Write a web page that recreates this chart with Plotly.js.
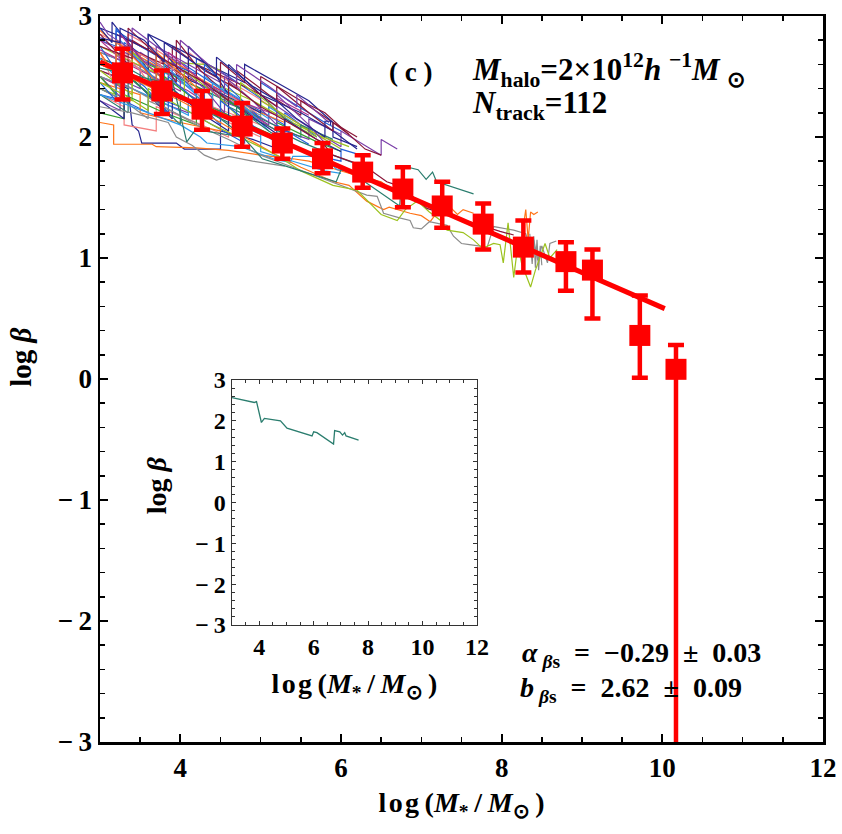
<!DOCTYPE html>
<html>
<head>
<meta charset="utf-8">
<script src="https://cdn.plot.ly/plotly-3.0.1.min.js"></script>
<style>
  html, body { margin: 0; padding: 0; background: #fff; }
  #chart { width: 842px; height: 834px; }
</style>
</head>
<body>
<div id="chart"></div>
<script>
// ---- Binned median of log beta (red squares) ----
const binX     = [3.28, 3.77, 4.27, 4.77, 5.27, 5.77, 6.27, 6.77, 7.26, 7.77, 8.27, 8.80, 9.13, 9.72, 10.17];
const binY     = [2.53, 2.38, 2.23, 2.09, 1.95, 1.82, 1.71, 1.57, 1.43, 1.28, 1.09, 0.97, 0.90, 0.36, 0.08];
const binErrUp = [0.20, 0.17, 0.15, 0.19, 0.12, 0.13, 0.14, 0.18, 0.20, 0.17, 0.22, 0.16, 0.17, 0.33, 0.20];
const binErrDn = [0.22, 0.19, 0.17, 0.17, 0.13, 0.12, 0.13, 0.15, 0.18, 0.21, 0.21, 0.24, 0.40, 0.35, 3.60];

// ---- Linear fit: log beta = b + alpha * (log M* - 3) ----
const fitAlpha = -0.29;
const fitB = 2.62;
const fitRange = [3.0, 10.03];

// ---- Tick labels ----
const xTickVals = [4, 6, 8, 10, 12];
const xTickText = ['4', '6', '8', '10', '12'];
const yTickVals = [-3, -2, -1, 0, 1, 2, 3];
const yTickText = ['−\u20093', '−\u20092', '−\u20091', '0', '1', '2', '3'];

// ---- Individual tracks, [log M*, log beta] ----
const trackTeal = [[3.0,2.57],[3.82,2.45],[3.9,2.47],[3.94,2.35],[4.08,1.96],[4.19,2.06],[4.78,2.0],[5.02,1.82],[5.45,1.73],[5.94,1.63],[6.0,1.73],[6.12,1.71],[6.73,1.43],[6.77,1.76],[6.96,1.73],[7.06,1.65],[7.14,1.71],[7.19,1.63],[7.65,1.53]];
const trackGreenLong = [[3.0,2.45],[3.3,2.35],[3.6,2.22],[3.6,2.4],[4.0,2.25],[4.4,2.1],[4.8,1.98],[5.2,1.85],[5.5,1.72],[5.9,1.6],[6.2,1.56],[6.5,1.36],[6.7,1.31],[6.8,1.4],[6.95,1.47],[7.1,1.38],[7.24,1.31],[7.32,1.23],[7.52,1.21],[7.65,1.15],[7.76,1.08],[7.9,1.12],[7.98,1.11],[8.02,0.96],[8.08,1.29],[8.12,1.05],[8.15,0.84],[8.2,1.1],[8.25,0.95],[8.36,0.76],[8.42,0.9],[8.48,1.01],[8.54,1.12],[8.6,1.0],[8.69,1.07]];
const trackGrayLong = [[3.0,2.5],[3.4,2.4],[3.8,2.25],[4.2,2.1],[4.6,1.98],[5.0,1.85],[5.4,1.75],[5.8,1.65],[6.1,1.58],[6.32,1.52],[6.45,1.51],[6.53,1.37],[6.74,1.33],[6.86,1.31],[6.9,1.25],[7.0,1.24],[7.1,1.3],[7.32,1.27],[7.4,1.18],[7.5,1.12],[7.6,1.11],[7.82,1.09],[7.9,1.26],[8.15,1.23],[8.3,1.2],[8.36,1.08],[8.4,1.15],[8.45,0.98],[8.5,1.1],[8.57,0.96],[8.6,1.12],[8.68,1.14]];
const trackGrayBundle = [[8.35,1.2],[8.38,0.95],[8.4,1.18],[8.42,0.92],[8.44,1.15],[8.46,0.9],[8.48,1.1],[8.5,0.94]];
const trackOrangeLong = [[3.0,2.6],[3.5,2.45],[4.0,2.3],[4.5,2.12],[4.8,2.0],[5.2,1.85],[5.5,1.75],[5.91,1.63],[6.1,1.6],[6.32,1.47],[6.53,1.40],[6.6,1.42],[6.86,1.37],[7.0,1.35],[7.11,1.30],[7.2,1.38],[7.36,1.42],[7.45,1.36],[7.52,1.40],[7.65,1.37]];
const trackOrangeSpike = [[8.26,1.22],[8.3,1.4],[8.33,1.15],[8.36,1.38],[8.4,1.36],[8.45,1.38]];
const trackOrangeLow = [[3.0,2.12],[3.17,2.1],[3.17,1.94],[3.65,1.94],[3.7,1.92],[4.2,1.91],[4.6,1.89],[5.0,1.85],[5.4,1.82],[5.6,1.8],[5.9,1.74],[6.2,1.68],[6.5,1.63],[6.6,1.58]];
const trackGrayLow = [[3.0,2.25],[3.4,2.2],[3.85,2.12],[3.95,2.0],[4.15,1.93],[4.3,1.85],[4.45,1.81],[4.6,1.84],[4.9,1.8],[5.3,1.76]];
const trackMaroonLong = [[3.0,2.75],[3.4,2.65],[3.4,2.8],[3.9,2.6],[4.3,2.45],[4.6,2.3],[4.6,2.45],[5.0,2.25],[5.4,2.1],[5.77,1.95],[5.9,1.85],[6.2,1.78],[6.36,1.73],[6.57,1.63],[6.7,1.6],[6.95,1.48],[7.07,1.41],[7.3,1.36],[7.6,1.3],[7.98,1.22],[8.15,1.19]];
const trackBlueLow = [[3.0,2.35],[3.4,2.25],[3.84,2.14],[4.0,2.1],[4.25,2.0],[4.33,1.95],[4.75,1.92],[5.0,1.86],[5.2,1.81],[5.37,1.79],[5.4,1.84],[5.78,1.84],[5.95,1.73],[6.1,1.72],[6.2,1.7]];
const trackNavySpike = [[3.0,2.82],[3.25,2.78],[3.25,2.9],[3.55,2.8],[3.8,2.62],[3.8,2.78],[4.2,2.6],[4.45,2.5],[4.45,2.66],[4.9,2.42],[5.2,2.3],[5.45,2.15],[5.8,2.0],[5.8,2.13],[5.87,2.13],[5.87,2.1]];

const cloud01 = [[3.0,2.7],[3.3,2.62],[3.3,2.78],[3.7,2.6],[4.0,2.48],[4.0,2.62],[4.5,2.4],[4.9,2.25],[5.3,2.1],[5.3,2.2],[5.7,2.0]];
const cloud02 = [[3.0,2.55],[3.5,2.4],[3.5,2.7],[3.85,2.55],[4.2,2.35],[4.2,2.5],[4.7,2.28],[5.1,2.1],[5.1,2.3],[5.6,2.08],[6.0,1.92],[6.0,2.05],[6.5,1.85],[6.5,1.98],[6.7,1.9]];
const cloud03 = [[3.0,2.6],[3.3,2.52],[3.35,2.85],[3.7,2.72],[4.1,2.55],[4.1,2.7],[4.5,2.5],[4.9,2.35],[5.2,2.22],[5.5,2.1],[5.8,1.98]];
const cloud04 = [[3.0,2.5],[3.35,2.4],[3.4,2.1],[3.48,2.05],[3.52,1.95],[3.95,1.95],[4.05,1.9],[4.5,1.9],[4.5,2.05],[4.9,1.98],[5.3,1.88]];
const cloud05 = [[3.0,2.4],[3.4,2.3],[3.4,2.5],[3.9,2.35],[4.4,2.2],[4.4,2.4],[4.8,2.25],[5.0,2.15],[5.0,2.3],[5.5,2.1],[5.8,1.98],[6.0,1.9]];
const cloud06 = [[3.0,2.65],[3.2,2.6],[3.2,2.85],[3.6,2.72],[3.9,2.58],[3.9,2.75],[4.3,2.55],[4.7,2.4],[4.7,2.55],[5.1,2.35],[5.5,2.18],[5.5,2.3],[5.9,2.12],[6.2,2.0]];
const cloud07 = [[3.0,2.6],[3.2,2.55],[3.2,2.78],[3.6,2.62],[4.0,2.45],[4.3,2.35],[4.3,2.5],[4.7,2.33],[5.1,2.15],[5.1,2.25],[5.4,2.12]];
const cloud08 = [[3.0,2.5],[3.3,2.4],[3.3,2.65],[3.7,2.52],[4.1,2.38],[4.4,2.25],[4.4,2.4],[4.8,2.22],[5.2,2.05]];
const cloud09 = [[3.0,2.88],[3.1,2.82],[3.4,2.7],[3.8,2.55],[3.8,2.68],[4.2,2.5],[4.6,2.35],[5.0,2.2],[5.3,2.12]];
const cloud10 = [[3.0,2.4],[3.3,2.3],[3.3,2.55],[3.8,2.38],[4.3,2.22],[4.6,2.12],[4.6,2.25],[5.0,2.12],[5.5,1.96],[5.9,1.85],[6.3,1.75]];
const cloud11 = [[3.0,2.8],[3.2,2.75],[3.2,2.88],[3.5,2.75],[3.9,2.6],[4.2,2.52],[4.2,2.65],[4.6,2.5],[5.0,2.32],[5.0,2.45],[5.4,2.28],[5.8,2.12],[6.0,2.05]];
const cloud12 = [[3.0,2.3],[3.25,2.22],[3.25,2.45],[3.7,2.3],[4.1,2.2],[4.1,2.35],[4.6,2.18],[5.0,2.05],[5.4,1.95]];
const cloud13 = [[3.0,2.7],[3.4,2.6],[3.8,2.45],[3.8,2.6],[4.2,2.45],[4.6,2.3],[5.0,2.18]];
const cloud14 = [[3.0,2.35],[3.3,2.25],[3.3,2.1],[3.7,2.05],[3.7,2.25],[4.2,2.12],[4.6,2.0],[4.6,2.12],[5.0,2.0]];
const cloud15 = [[3.0,2.9],[3.3,2.82],[3.6,2.72],[3.6,2.85],[4.0,2.72],[4.4,2.58],[4.8,2.45],[4.8,2.6],[5.2,2.45],[5.6,2.3],[5.9,2.12],[5.9,2.0],[6.2,1.92]];
const cloud16 = [[3.0,2.2],[3.3,2.15],[3.3,2.35],[3.8,2.2],[4.2,2.1],[4.2,2.3],[4.7,2.15],[5.1,2.0]];
const cloud17 = [[3.0,2.5],[3.4,2.4],[3.8,2.28],[4.1,2.18],[4.1,2.3],[4.6,2.15],[5.0,2.02],[5.0,1.88],[5.4,1.8],[5.8,1.72],[6.0,1.7]];
const cloud18 = [[3.0,2.55],[3.4,2.45],[3.4,2.72],[3.8,2.6],[4.2,2.45],[4.2,2.6],[4.7,2.45],[5.0,2.35],[5.0,2.5],[5.5,2.3],[5.8,2.2],[6.3,1.9],[6.5,1.85]];
const cloud19 = [[3.0,2.75],[3.4,2.62],[3.8,2.5],[3.8,2.62],[4.3,2.6],[4.5,2.55],[4.5,2.42],[4.9,2.3],[5.3,2.15],[5.7,2.02],[6.1,1.92]];
const cloud20 = [[3.0,2.8],[3.3,2.7],[3.7,2.58],[3.7,2.75],[4.1,2.6],[4.5,2.45],[4.5,2.3],[4.9,2.2],[5.3,2.05],[5.6,1.98],[5.6,2.15],[6.0,2.02]];
const cloud21 = [[3.0,2.35],[3.3,2.3],[3.6,2.2],[3.6,2.35],[4.0,2.25],[4.4,2.1],[4.8,1.95],[4.8,2.1],[5.2,1.98],[5.6,1.86],[6.0,1.8],[6.0,1.9],[6.3,1.84]];
const cloud22 = [[3.0,2.85],[3.3,2.75],[3.6,2.65],[3.9,2.52],[4.2,2.45],[4.2,2.3],[4.6,2.2],[5.0,2.1]];
const cloud23 = [[3.0,2.6],[3.4,2.5],[3.8,2.35],[3.8,2.55],[4.3,2.42],[4.7,2.3],[5.0,2.2],[5.0,2.35],[5.5,2.2],[5.9,2.05],[6.2,1.9]];
const cloud24 = [[3.0,2.45],[3.5,2.35],[3.5,2.2],[4.0,2.12],[4.5,2.05],[4.5,2.2],[5.0,2.05],[5.4,1.92]];
const cloud25 = [[3.0,2.65],[3.4,2.55],[3.8,2.4],[4.2,2.28],[4.2,2.42],[4.7,2.25],[5.1,2.12],[5.5,2.0],[5.5,2.1],[5.9,1.98]];
const cloud26 = [[3.0,2.72],[3.3,2.62],[3.7,2.48],[4.0,2.38],[4.0,2.55],[4.4,2.42],[4.8,2.28],[5.2,2.18],[5.2,2.32],[5.6,2.18]];
const cloud27 = [[3.0,2.62],[3.3,2.55],[3.6,2.45],[3.6,2.6],[4.0,2.48],[4.4,2.35],[4.4,2.2],[4.8,2.12],[5.2,2.0],[5.2,2.12],[5.7,1.96],[6.0,1.88]];
const cloud28 = [[3.0,2.4],[3.3,2.3],[3.6,2.15],[3.6,2.3],[4.0,2.18],[4.3,2.08]];
const cloud29 = [[3.0,2.9],[3.15,2.78],[3.15,2.95],[3.45,2.7],[3.6,2.55],[3.6,2.85],[3.9,2.62],[4.1,2.45],[4.1,2.75],[4.4,2.55],[4.6,2.35],[4.6,2.6],[5.0,2.35],[5.3,2.15]];
const cloud30 = [[3.0,2.75],[3.2,2.55],[3.2,2.9],[3.5,2.65],[3.7,2.4],[3.7,2.7],[4.0,2.5],[4.3,2.3],[4.3,2.6],[4.7,2.35],[5.0,2.15]];
const cloud31 = [[3.0,2.5],[3.3,2.3],[3.3,2.75],[3.65,2.5],[3.9,2.3],[3.9,2.62],[4.3,2.4],[4.55,2.2],[4.55,2.5],[4.9,2.3],[5.2,2.1],[5.2,2.35],[5.6,2.1],[5.8,1.95]];
const cloud32 = [[3.0,2.85],[3.35,2.6],[3.35,2.9],[3.75,2.65],[3.95,2.45],[3.95,2.8],[4.25,2.55],[4.5,2.4],[4.5,2.62],[4.9,2.4],[5.2,2.25],[5.2,2.42],[5.6,2.2],[5.9,2.05],[5.9,2.12],[6.1,2.02]];
const cloud33 = [[3.0,2.65],[3.25,2.45],[3.25,2.8],[3.6,2.55],[3.8,2.35],[3.8,2.6],[4.15,2.38],[4.4,2.2],[4.4,2.45],[4.8,2.25],[5.1,2.05]];
const cloud34 = [[3.0,2.7],[3.2,2.4],[3.2,2.75],[3.5,2.55],[3.75,2.3],[3.75,2.65],[4.1,2.45],[4.35,2.25],[4.6,2.15],[4.6,2.35],[4.95,2.2]];
const cloud35 = [[3.0,2.55],[3.4,2.35],[3.4,2.7],[3.75,2.5],[4.05,2.3],[4.05,2.55],[4.45,2.35],[4.75,2.15],[4.75,2.45],[5.1,2.28],[5.4,2.1],[5.7,2.0]];
const cloud36 = [[3.0,2.3],[3.3,2.15],[3.3,2.55],[3.6,2.35],[3.9,2.15],[3.9,2.4],[4.25,2.2],[4.6,2.05],[4.6,2.3],[5.0,2.12],[5.3,1.98],[5.3,2.15],[5.7,1.98],[6.0,1.88]];
const cloud37 = [[3.0,2.8],[3.25,2.65],[3.25,2.85],[3.55,2.62],[3.85,2.45],[3.85,2.7],[4.2,2.5],[4.5,2.32]];
const cloud38 = [[3.0,2.5],[3.2,2.35],[3.2,2.6],[3.5,2.42],[3.8,2.25],[3.8,2.5],[4.2,2.3],[4.5,2.15],[4.5,2.35],[4.9,2.15]];
const cloud39 = [[3.0,2.35],[3.35,2.2],[3.35,2.5],[3.7,2.3],[4.0,2.1],[4.0,2.35],[4.4,2.2],[4.7,2.05],[4.7,2.25],[5.1,2.05],[5.4,1.92]];
const cloud40 = [[3.0,2.7],[3.2,2.5],[3.2,2.8],[3.5,2.6],[3.7,2.45],[3.7,2.7],[4.05,2.5],[4.3,2.35]];
const cloud41 = [[3.0,2.95],[3.1,2.85],[3.4,2.72],[3.4,2.9],[3.7,2.75],[4.0,2.6],[4.0,2.8],[4.35,2.6],[4.7,2.45],[4.7,2.6],[5.1,2.42],[5.45,2.25],[5.45,2.35],[5.85,2.12]];
const cloud42 = [[3.0,2.45],[3.2,2.3],[3.2,2.6],[3.55,2.42],[3.85,2.2],[3.85,2.5],[4.2,2.3],[4.5,2.1],[4.5,2.3],[4.85,2.12],[5.2,1.95],[5.2,2.1],[5.6,1.94]];

// Track colours
const cNavy = '#25258f', cBlue = '#2460d8', cLBlue = '#2f9be8', cOrange = '#ff7418',
      cGray = '#8c8c8c', cYGreen = '#9cc21e', cPurple = '#7b3fa8', cSalmon = '#f48080',
      cTeal = '#2a7d6e', cMaroon = '#8a1638', cGreen = '#33a02c', cMagenta = '#b0308f';

const trackList = [
  [cloud01, cBlue], [cloud02, cPurple], [cloud03, cSalmon], [cloud04, cNavy],
  [cloud05, cYGreen], [cloud06, cMaroon], [cloud07, cLBlue], [cloud08, cMagenta],
  [cloud09, cOrange], [cloud10, cTeal], [cloud11, cBlue], [cloud12, cPurple],
  [cloud13, cGray], [cloud14, cSalmon], [cloud15, cNavy], [cloud16, cGreen],
  [cloud17, cLBlue], [cloud18, cMaroon], [cloud19, cYGreen], [cloud20, cPurple],
  [cloud21, cBlue], [cloud22, cSalmon], [cloud23, cNavy], [cloud24, cOrange],
  [cloud25, cTeal], [cloud26, cMagenta], [cloud27, cGreen], [cloud28, cGray],
  [cloud29, cNavy], [cloud30, cBlue], [cloud31, cPurple], [cloud32, cMaroon],
  [cloud33, cLBlue], [cloud34, cSalmon], [cloud35, cYGreen], [cloud36, cNavy],
  [cloud37, cMagenta], [cloud38, cGreen], [cloud39, cTeal], [cloud40, cOrange],
  [cloud41, cPurple], [cloud42, cBlue],
  [trackOrangeLow, cOrange], [trackGrayLow, cGray], [trackBlueLow, cLBlue],
  [trackOrangeLong, cOrange], [trackOrangeSpike, cOrange], [trackGrayLong, cGray],
  [trackGrayBundle, cGray], [trackGreenLong, cYGreen], [trackMaroonLong, cMaroon],
  [trackTeal, cTeal], [trackNavySpike, cNavy]
];

const serif = 'Liberation Serif, Times New Roman, serif';
const traces = [];

trackList.forEach(([pts, col]) => {
  traces.push({
    type: 'scatter', mode: 'lines',
    x: pts.map(p => p[0]), y: pts.map(p => p[1]),
    line: { color: col, width: 1.2 },
    xaxis: 'x', yaxis: 'y', hoverinfo: 'skip'
  });
});

// fit line
traces.push({
  type: 'scatter', mode: 'lines',
  x: fitRange, y: fitRange.map(v => fitB + fitAlpha * (v - 3)),
  line: { color: '#ff0000', width: 5 }, xaxis: 'x', yaxis: 'y'
});

// binned points with error bars
traces.push({
  type: 'scatter', mode: 'markers',
  x: binX, y: binY,
  marker: { symbol: 'square', size: 21, color: '#ff0000' },
  error_y: { type: 'data', symmetric: false, array: binErrUp, arrayminus: binErrDn,
             color: '#ff0000', thickness: 4.5, width: 8 },
  xaxis: 'x', yaxis: 'y'
});

// inset: a single track
traces.push({
  type: 'scatter', mode: 'lines',
  x: trackTeal.map(p => p[0]), y: trackTeal.map(p => p[1]),
  line: { color: cTeal, width: 1.3 }, xaxis: 'x2', yaxis: 'y2'
});

const bold = arr => arr.map(t => '<b>' + t + '</b>');
const mainTickFont = { family: serif, size: 27, color: '#000', weight: 'bold' };
const insetTickFont = { family: serif, size: 24, color: '#000', weight: 'bold' };
const xTitle = '<b>l\u200ao\u200ag\u2009(<i>M</i><sub>*</sub>\u2009/\u2009<i>M</i><sub>⊙</sub>\u2009)</b>';
// leading spaces lift the rotated label slightly above the axis midpoint
const yTitleMain = '<b>\u2003\u2002log <i>β</i></b>';
const yTitleInset = '<b>\u2003\u2009log <i>β</i></b>';

function axisBase(lw, lc, tf) {
  return {
    showgrid: false, zeroline: false, showline: true, linewidth: lw, linecolor: lc,
    mirror: 'ticks', ticks: 'inside', tickcolor: lc, tickfont: tf
  };
}

const layout = {
  width: 842, height: 834,
  margin: { l: 100, r: 19, t: 16, b: 92 },
  paper_bgcolor: '#fff', plot_bgcolor: '#fff',
  showlegend: false,
  font: { family: serif, color: '#000' },
  xaxis: Object.assign(axisBase(2.5, '#000', mainTickFont), {
    domain: [0, 1], anchor: 'y', range: [3, 12],
    tickmode: 'array', tickvals: xTickVals, ticktext: bold(xTickText),
    ticklen: 8, tickwidth: 2,
    minor: { tickmode: 'linear', tick0: 0, dtick: 0.5, ticks: 'inside', ticklen: 5, tickwidth: 1.5, tickcolor: '#000', showgrid: false },
    title: { text: xTitle, font: { family: serif, size: 28 }, standoff: 11 }
  }),
  yaxis: Object.assign(axisBase(2.5, '#000', mainTickFont), {
    domain: [0, 1], anchor: 'x', range: [-3, 3],
    tickmode: 'array', tickvals: yTickVals, ticktext: bold(yTickText),
    ticklen: 8, tickwidth: 2,
    minor: { tickmode: 'linear', tick0: 0, dtick: 0.2, ticks: 'inside', ticklen: 5, tickwidth: 1.5, tickcolor: '#000', showgrid: false },
    title: { text: yTitleMain, font: { family: serif, size: 29 }, standoff: 18 }
  }),
  xaxis2: Object.assign(axisBase(1.5, '#333', insetTickFont), {
    domain: [0.1826, 0.5214], anchor: 'y2', range: [3, 12],
    tickmode: 'array', tickvals: xTickVals, ticktext: bold(xTickText),
    ticklen: 4, tickwidth: 1,
    minor: { tickmode: 'linear', tick0: 0, dtick: 0.5, ticks: 'inside', ticklen: 3, tickwidth: 1, tickcolor: '#333', showgrid: false },
    title: { text: xTitle, font: { family: serif, size: 28 }, standoff: 14 }
  }),
  yaxis2: Object.assign(axisBase(1.5, '#333', insetTickFont), {
    domain: [0.1612, 0.4986], anchor: 'x2', range: [-3, 3],
    tickmode: 'array', tickvals: yTickVals, ticktext: bold(yTickText),
    ticklen: 4, tickwidth: 1,
    minor: { tickmode: 'linear', tick0: 0, dtick: 0.2, ticks: 'inside', ticklen: 3, tickwidth: 1, tickcolor: '#333', showgrid: false },
    title: { text: yTitleInset, font: { family: serif, size: 28 }, standoff: 20 }
  }),
  annotations: [
    { xref: 'paper', yref: 'paper', x: 0.430, y: 0.923, xanchor: 'center', yanchor: 'middle',
      showarrow: false, text: '<b>( c )</b>', font: { family: serif, size: 27 } },
    { xref: 'paper', yref: 'paper', x: 0.5118, y: 0.925, xanchor: 'left', yanchor: 'middle',
      showarrow: false,
      text: '<b><i>M</i><sub>halo</sub>=2×10<sup>12</sup><i>h</i> <sup>−1</sup><i>M</i> <sub>⊙</sub></b>',
      font: { family: serif, size: 31 } },
    { xref: 'paper', yref: 'paper', x: 0.5118, y: 0.878, xanchor: 'left', yanchor: 'middle',
      showarrow: false, text: '<b><i>N</i><sub>track</sub>=112</b>',
      font: { family: serif, size: 31 } },
    { xref: 'paper', yref: 'paper', x: 0.581, y: 0.12, xanchor: 'left', yanchor: 'middle',
      showarrow: false, text: '<b><i>α</i><sub> <i>β</i>s</sub>  =  −0.29  ±  0.03</b>',
      font: { family: serif, size: 28 } },
    { xref: 'paper', yref: 'paper', x: 0.578, y: 0.072, xanchor: 'left', yanchor: 'middle',
      showarrow: false, text: '<b><i>b</i><sub> <i>β</i>s</sub>  =  2.62  ±  0.09</b>',
      font: { family: serif, size: 28 } }
  ]
};

Plotly.newPlot('chart', traces, layout, { displayModeBar: false, staticPlot: true });
</script>
</body>
</html>
